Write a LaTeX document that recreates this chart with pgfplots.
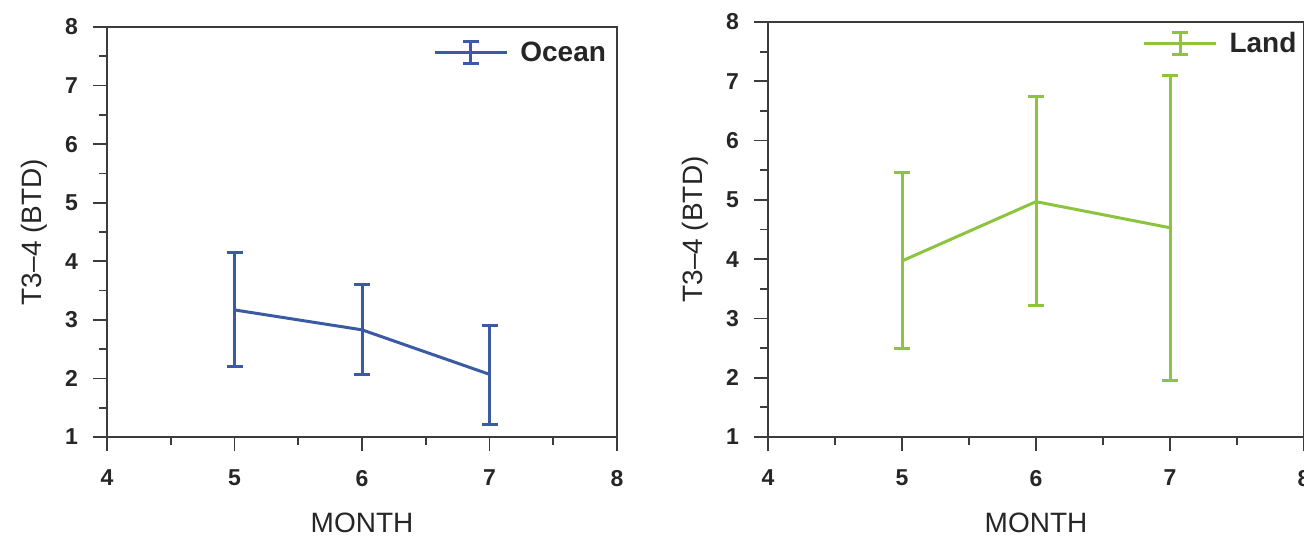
\documentclass[border=0pt]{standalone}
\usepackage{fontspec}
\setmainfont{Liberation Sans}
\usepackage{pgfplots}
\pgfplotsset{compat=1.18}
\definecolor{oceanblue}{RGB}{58,90,165}
\definecolor{landgreen}{RGB}{140,196,64}
\definecolor{axgray}{RGB}{60,60,60}

\pgfplotsset{
  panel/.style={
    scale only axis,
    anchor=south west,
    xmin=4, xmax=8, ymin=1, ymax=8,
    xtick={4,5,6,7,8}, ytick={1,2,3,4,5,6,7,8},
    minor x tick num=1, minor y tick num=1,
    tick align=outside,
    xtick pos=left, ytick pos=left,
    major tick length=7pt, minor tick length=4pt,
    axis line style={axgray, line width=1pt},
    every tick/.style={axgray, line width=0.9pt},
    /pgf/number format/assume math mode=true,
    ticklabel style={font=\bfseries\fontsize{11.5}{13}\selectfont, text=black!85},
    xticklabel style={yshift=-6pt},
    yticklabel style={xshift=-4pt},
    xlabel={MONTH},
    ylabel={T3--4 (BTD)},
    label style={font=\fontsize{14}{16}\selectfont, text=black!85},
    xlabel style={yshift=-6.5pt},
    ylabel style={yshift=2pt},
    legend style={draw=none, fill=none, font=\bfseries\fontsize{14}{16}\selectfont, text=black!85, anchor=north east, inner sep=0pt, row sep=0pt},
    legend cell align=left,
    clip=false,
  },
  ebar/.style={color=#1, line width=1.5pt, mark=none,
    error bars/.cd, y dir=both, y explicit,
    error bar style={line width=1.5pt, #1},
    error mark options={rotate=90, line width=1.5pt, mark size=4pt, #1},
  },
  ebarlegend/.style={legend image code/.code={
    \draw[#1, line width=1.5pt] (0pt,0pt) -- (36pt,0pt);
    \draw[#1, line width=1.5pt] (18pt,-5.5pt) -- (18pt,5.5pt);
    \draw[#1, line width=1.5pt] (14pt,-5.5pt) -- (22pt,-5.5pt);
    \draw[#1, line width=1.5pt] (14pt,5.5pt) -- (22pt,5.5pt);
  }},
}

\begin{document}
\begin{tikzpicture}
\useasboundingbox (0,0) rectangle (652pt,269pt);
\clip (0,0) rectangle (652pt,269pt);

\begin{axis}[panel,
  at={(53.5pt,50.5pt)}, width=255pt, height=205pt,
  legend style={at={(axis description cs:0.987,0.975)}},
]
\addplot[ebarlegend=oceanblue, ebar=oceanblue] coordinates {
  (5,3.17) -= (0,0.96) += (0,0.98)
  (6,2.83) -= (0,0.76) += (0,0.77)
  (7,2.07) -= (0,0.85) += (0,0.84)
};
\addlegendentry{\hspace{4pt}Ocean}
\end{axis}

\begin{axis}[panel,
  at={(384pt,50.5pt)}, width=268pt, height=207.5pt,
  legend style={at={(axis description cs:0.994,0.986)}},
]
\addplot[ebarlegend=landgreen, ebar=landgreen] coordinates {
  (5,3.97) -= (0,1.47) += (0,1.50)
  (6,4.97) -= (0,1.75) += (0,1.78)
  (7,4.53) -= (0,2.57) += (0,2.57)
};
\addlegendentry{\hspace{4pt}Land}
\end{axis}
\end{tikzpicture}
\end{document}
